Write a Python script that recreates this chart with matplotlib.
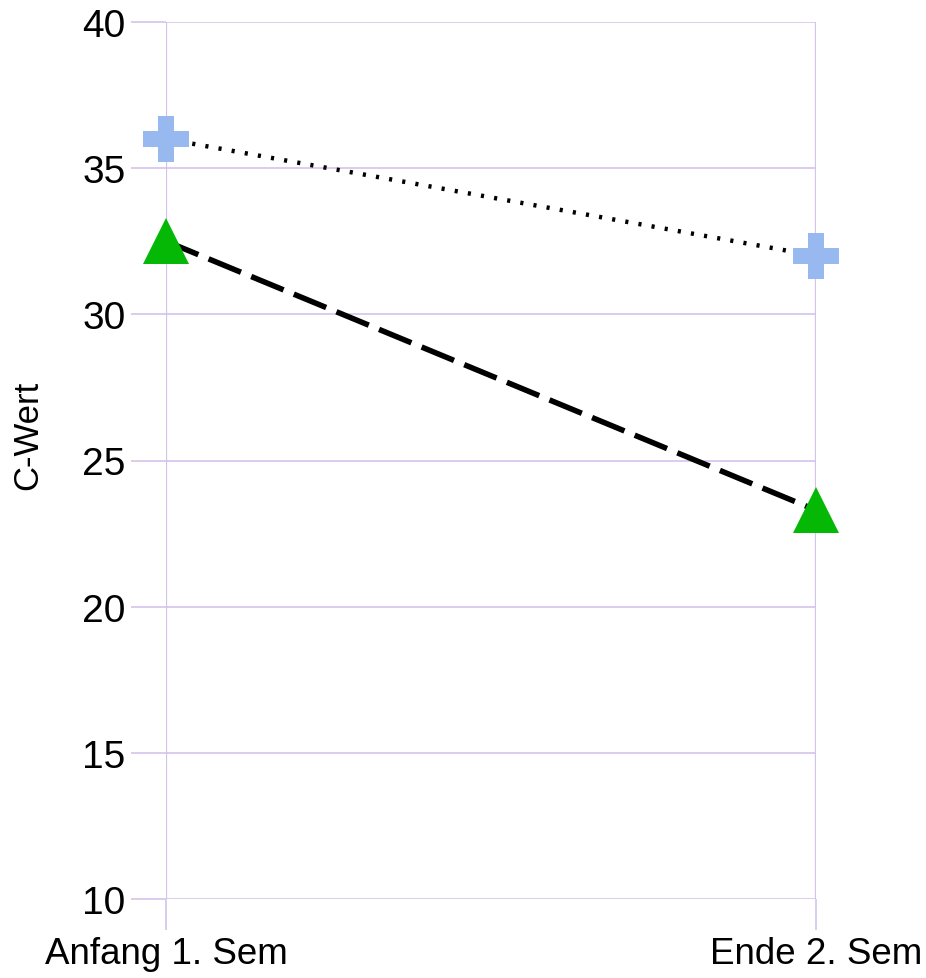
import matplotlib.pyplot as plt

plt.rcParams['font.family'] = ['Liberation Sans', 'DejaVu Sans']

semester = ["Anfang 1. Sem", "Ende 2. Sem"]
group_plus = [36.0, 32.0]
group_tri = [32.5, 23.3]
y_ticks = [10, 15, 20, 25, 30, 35, 40]

grid_col = "#d3c3ea"

fig = plt.figure(figsize=(9.26, 9.79), dpi=100)
ax = fig.add_axes([166 / 926, 1 - 900 / 979, 650 / 926, 877 / 979])

x = list(range(len(semester)))
ax.plot(x, group_plus, color="black", linestyle=(0, (0.7, 2.3)), linewidth=3.2, zorder=2)
ax.plot(x, group_tri, color="black", linestyle=(0, (6.3, 2.0)), linewidth=4, zorder=2)
ax.plot(x, group_plus, linestyle="none", marker="P", markersize=33,
        color="#98b9ef", markeredgewidth=0, zorder=3, clip_on=False)
ax.plot(x, group_tri, linestyle="none", marker="^", markersize=33,
        color="#06b806", markeredgewidth=0, zorder=3, clip_on=False)

ax.set_xlim(0, 1)
ax.set_ylim(10, 40)
ax.set_xticks(x)
ax.set_xticklabels(semester, fontsize=26.5)
ax.set_yticks(y_ticks)
ax.tick_params(axis="y", labelsize=28, length=25, color=grid_col, width=1.2, pad=4)
ax.tick_params(axis="x", length=22, color=grid_col, width=1.2, pad=5)

for yv in y_ticks:
    ax.axhline(yv, color=grid_col, linewidth=1.2, zorder=1)
for xv in x:
    ax.axvline(xv, color=grid_col, linewidth=1.6, zorder=1)

for s in ax.spines.values():
    s.set_visible(False)

ax.set_ylabel("C-Wert", fontsize=25)
ax.yaxis.set_label_coords(-0.188, 0.53)

fig.savefig("out.png", dpi=100)
